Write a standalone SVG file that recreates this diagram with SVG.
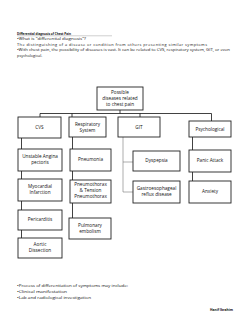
<svg xmlns="http://www.w3.org/2000/svg" width="240" height="320" viewBox="0 0 240 320">
<style>
text{font-family:"Open Sans","Liberation Sans",sans-serif;fill:#111}
.b rect{fill:#fff;stroke:#222;stroke-width:0.9}
.b text{font-size:4.7px;text-anchor:middle}
.t{font-size:3.9px}
.c{fill:none;stroke:#111;stroke-width:0.8}
.g{fill:none;stroke:#777;stroke-width:0.6}
</style>
<rect width="240" height="320" fill="#fff"/>
<g id="header">
<text class="t" x="17" y="34.5" font-weight="bold" textLength="54" lengthAdjust="spacingAndGlyphs">Differential diagnosis of Chest Pain</text>
<line x1="17" y1="35.8" x2="112" y2="35.8" stroke="#888" stroke-width="0.4"/>
<text class="t" x="17" y="40" textLength="69" lengthAdjust="spacingAndGlyphs">•What is "differential diagnosis"?</text>
<text class="t" x="17" y="45.5" textLength="190" lengthAdjust="spacing">The distinguishing of a disease or condition from others presenting similar symptoms</text>
<text class="t" x="17" y="51" textLength="213" lengthAdjust="spacingAndGlyphs">•With chest pain, the possibility of diseases is vast. It can be related to CVS, respiratory system, GIT, or even</text>
<text class="t" x="17" y="56.5">psychological.</text>
</g>
<g id="connectors">
<path class="c" d="M120 110V113.5M40 113.5H211.5M40 113.5V117M72 113.5V117M140 113.5V117M211.5 113.5V121"/>
<path class="c" d="M21.5 138V238" stroke-width="1.1"/>
<path class="c" d="M72.5 137V218"/>
<path class="g" d="M123 137V192H133M123 162H133"/>
<path class="c" d="M192.5 137V181"/>
</g>
<g id="root" class="b"><rect x="97" y="87" width="46" height="23"/><text x="120" y="93.5">Possible</text><text x="120" y="99.5">diseases related</text><text x="120" y="105.5">to chest pain</text></g>
<g id="cvs" class="b"><rect x="18" y="117" width="43" height="21"/><text x="39.5" y="129">CVS</text></g>
<g id="resp" class="b"><rect x="69" y="117" width="37" height="20"/><text x="87.5" y="125.5">Respiratory</text><text x="87.5" y="131.5">System</text></g>
<g id="git" class="b"><rect x="118" y="117" width="42" height="20"/><text x="139" y="128.5">GIT</text></g>
<g id="psych" class="b"><rect x="189" y="121" width="42" height="16"/><text x="210" y="130.5">Psychological</text></g>
<g id="angina" class="b"><rect x="18" y="149" width="44" height="22"/><text x="40" y="158">Unstable Angina</text><text x="40" y="164">pectoris</text></g>
<g id="mi" class="b"><rect x="18" y="179" width="44" height="22"/><text x="40" y="188">Myocardial</text><text x="40" y="194">Infarction</text></g>
<g id="peri" class="b"><rect x="18" y="210" width="44" height="20"/><text x="40" y="221">Pericarditis</text></g>
<g id="aortic" class="b"><rect x="18" y="238" width="44" height="20"/><text x="40" y="246">Aortic</text><text x="40" y="252">Dissection</text></g>
<g id="pneumonia" class="b"><rect x="70" y="149" width="41" height="22"/><text x="90.5" y="161">Pneumonia</text></g>
<g id="pneumothorax" class="b"><rect x="70" y="180" width="41" height="23"/><text x="90.5" y="186">Pneumothorax</text><text x="90.5" y="192">&amp; Tension</text><text x="90.5" y="198">Pneumothorax</text></g>
<g id="pe" class="b"><rect x="69" y="218" width="42" height="21"/><text x="90" y="226.5">Pulmonary</text><text x="90" y="232.5">embolism</text></g>
<g id="dyspepsia" class="b"><rect x="133" y="151" width="47" height="20"/><text x="156.5" y="162">Dyspepsia</text></g>
<g id="gerd" class="b"><rect x="133" y="181" width="47" height="22"/><text x="156.5" y="190">Gastroesophageal</text><text x="156.5" y="196">reflux disease</text></g>
<g id="panic" class="b"><rect x="189" y="150" width="42" height="22"/><text x="210" y="162">Panic Attack</text></g>
<g id="anxiety" class="b"><rect x="189" y="181" width="42" height="22"/><text x="210" y="193">Anxiety</text></g>
<g id="footer">
<text class="t" x="17" y="287" textLength="111" lengthAdjust="spacingAndGlyphs">•Process of differentiation of symptoms may include:</text>
<text class="t" x="17" y="293" textLength="50" lengthAdjust="spacingAndGlyphs">•Clinical manifestation</text>
<text class="t" x="17" y="299" textLength="74" lengthAdjust="spacingAndGlyphs">•Lab and radiological investigation</text>
<text class="t" x="210" y="311" font-weight="bold" textLength="23" lengthAdjust="spacingAndGlyphs">Hanif Ibrahim</text>
</g>
</svg>
